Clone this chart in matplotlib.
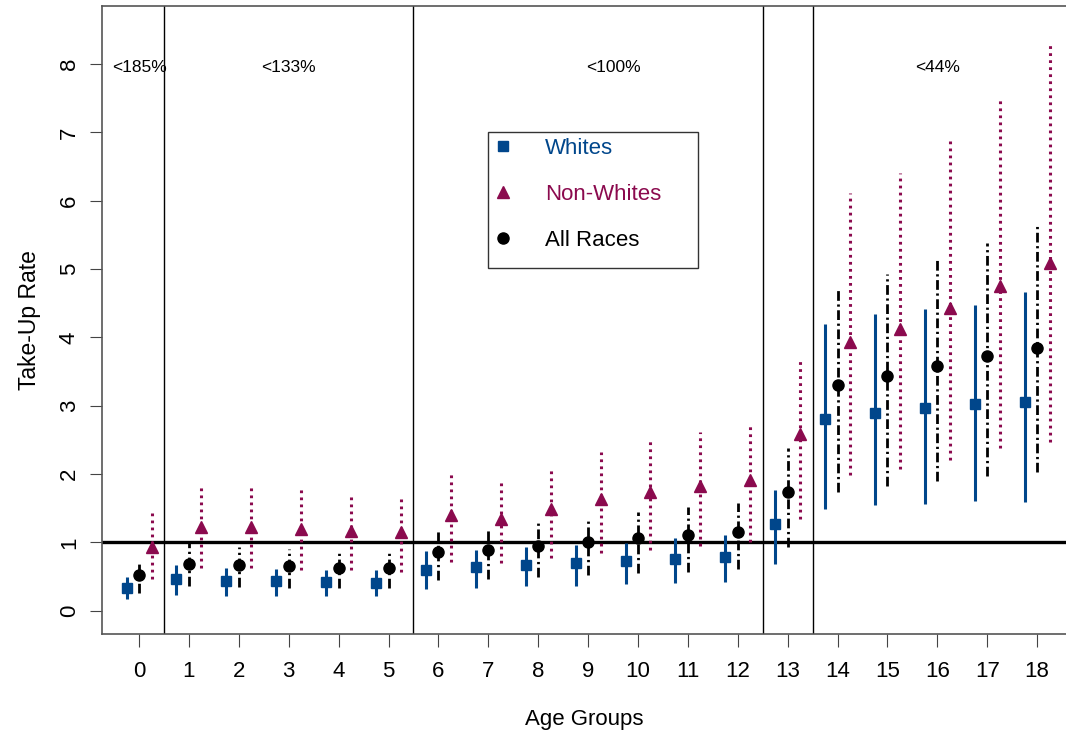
import matplotlib
matplotlib.use("Agg")
from matplotlib import pyplot as plt
from matplotlib.lines import Line2D
from matplotlib.patches import Rectangle
import numpy as np

plt.rcParams["font.family"] = ["Liberation Sans", "DejaVu Sans"]

# take-up rate by age group, point estimate with lower/upper bounds
ages = np.arange(19)
white = [0.34, 0.46, 0.44, 0.43, 0.42, 0.41, 0.60, 0.64, 0.67, 0.70, 0.73, 0.76, 0.79, 1.27, 2.81, 2.90, 2.97, 3.02, 3.05]
white_lo = [0.17, 0.23, 0.22, 0.22, 0.21, 0.21, 0.32, 0.34, 0.36, 0.37, 0.39, 0.40, 0.42, 0.69, 1.49, 1.55, 1.57, 1.61, 1.59]
white_hi = [0.49, 0.67, 0.63, 0.61, 0.60, 0.60, 0.87, 0.89, 0.93, 0.97, 0.99, 1.06, 1.11, 1.77, 4.20, 4.34, 4.41, 4.47, 4.66]
all_races = [0.52, 0.69, 0.67, 0.65, 0.63, 0.63, 0.86, 0.89, 0.95, 1.00, 1.06, 1.11, 1.15, 1.74, 3.30, 3.44, 3.58, 3.73, 3.85]
all_lo = [0.26, 0.36, 0.35, 0.33, 0.33, 0.33, 0.45, 0.47, 0.50, 0.53, 0.56, 0.57, 0.61, 0.94, 1.74, 1.83, 1.90, 1.97, 2.03]
all_hi = [0.73, 0.99, 0.94, 0.91, 0.89, 0.88, 1.19, 1.21, 1.29, 1.36, 1.44, 1.52, 1.58, 2.38, 4.74, 4.93, 5.15, 5.38, 5.68]
nonwhite = [0.94, 1.23, 1.22, 1.20, 1.17, 1.16, 1.40, 1.35, 1.49, 1.63, 1.74, 1.83, 1.92, 2.58, 3.94, 4.13, 4.43, 4.76, 5.09]
nonwhite_lo = [0.47, 0.62, 0.62, 0.60, 0.59, 0.57, 0.71, 0.70, 0.77, 0.84, 0.89, 0.95, 1.01, 1.35, 1.99, 2.08, 2.21, 2.38, 2.47]
nonwhite_hi = [1.43, 1.86, 1.82, 1.78, 1.73, 1.70, 2.04, 1.92, 2.11, 2.32, 2.48, 2.62, 2.73, 3.68, 6.12, 6.41, 6.93, 7.50, 8.30]

# eligibility thresholds (% of poverty line) by age band
band_edges = [0.5, 5.5, 12.5, 13.5]
band_label_x = [0, 3, 9.5, 16]
band_labels = ["<185%", "<133%", "<100%", "<44%"]

BLUE = "#00468b"
MAROON = "#8b0a4e"

fig = plt.figure(figsize=(10.66, 7.34), dpi=100)
ax = fig.add_axes([0.0957, 0.1362, 0.9053, 0.8556])

# reference line and band separators
ax.axhline(1, color="black", linewidth=2.4, zorder=1)
for edge in band_edges:
    ax.axvline(edge, color="black", linewidth=1.0, zorder=1)
for x, label in zip(band_label_x, band_labels):
    ax.text(x, 7.95, label, ha="center", va="center", fontsize=12.5)

# intervals
ax.vlines(ages - 0.25, white_lo, white_hi, colors=BLUE, linewidth=2.2, zorder=2)
ax.vlines(ages, all_lo, all_hi, colors="black", linewidth=2.0,
          linestyles=[(0, (3.5, 1.3, 0.8, 1.3))], zorder=2)
ax.vlines(ages + 0.25, nonwhite_lo, nonwhite_hi, colors=MAROON, linewidth=2.2,
          linestyles=[(0, (0.9, 1.4))], zorder=2)

# point estimates
ax.plot(ages - 0.25, white, "s", color=BLUE, markersize=7.5, zorder=3)
ax.plot(ages, all_races, "o", color="black", markersize=8, zorder=3)
ax.plot(ages + 0.25, nonwhite, "^", color=MAROON, markersize=8, zorder=3)

ax.set_xlim(-0.742, 18.6)
ax.set_ylim(-0.34, 8.85)
ax.set_xticks(ages)
ax.set_yticks(range(9))
ax.tick_params(axis="x", length=9.5, width=0.8, pad=10, labelsize=16, color="#444444")
ax.tick_params(axis="y", length=9, width=0.8, pad=7, labelsize=16, color="#444444")
for lab in ax.get_yticklabels():
    lab.set_rotation(90)
    lab.set_va("center")
for spine in ax.spines.values():
    spine.set_color("#555555")
    spine.set_linewidth(1.2)

ax.set_xlabel("Age Groups", fontsize=16, labelpad=19)
ax.set_ylabel("Take-Up Rate", fontsize=16.5, labelpad=13)

# legend: markers only, coloured text, drawn box
handles = [
    Line2D([], [], linestyle="none", marker="s", color=BLUE, markersize=7.5),
    Line2D([], [], linestyle="none", marker="^", color=MAROON, markersize=8),
    Line2D([], [], linestyle="none", marker="o", color="black", markersize=8),
]
leg = ax.legend(handles, ["Whites", "Non-Whites", "All Races"],
                loc="upper left", bbox_to_anchor=(492 / 1066, 1 - 138 / 734),
                bbox_transform=fig.transFigure, frameon=False, fontsize=16,
                handlelength=1.0, handletextpad=1.39, labelspacing=1.12,
                borderpad=0, borderaxespad=0)
for text, color in zip(leg.get_texts(), [BLUE, MAROON, "black"]):
    text.set_color(color)
fig.patches.append(Rectangle((488 / 1066, 1 - 268 / 734), 210 / 1066, 136 / 734,
                             transform=fig.transFigure, fill=False,
                             edgecolor="#333333", linewidth=1.0))

fig.savefig("out.png", dpi=100)
plt.close(fig)
